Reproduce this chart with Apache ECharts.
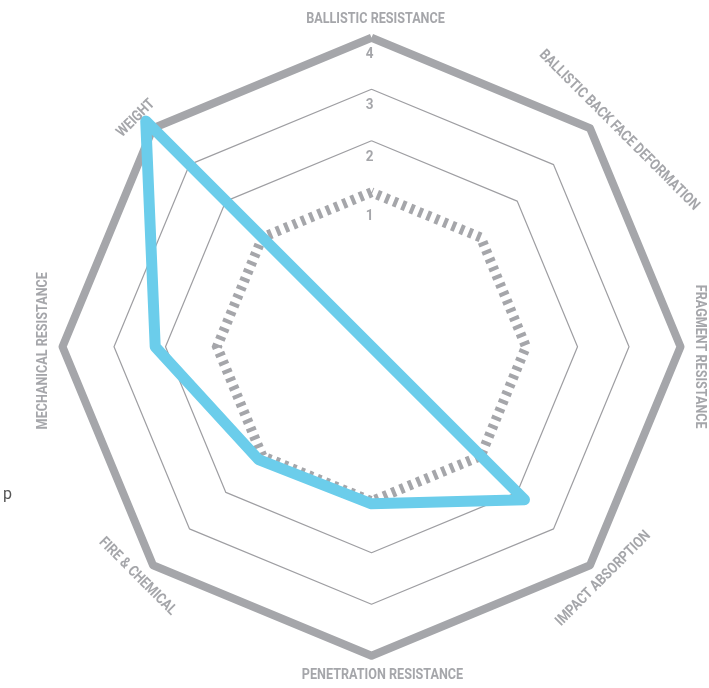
<!DOCTYPE html>
<html><head><meta charset="utf-8">
<script src="https://cdn.jsdelivr.net/npm/echarts@6/dist/echarts.min.js"></script>
<style>html,body{margin:0;padding:0;background:#fff}#c{width:709px;height:688px}</style>
</head><body><div id="c"></div>
<script>
// ---- data (reference order, clockwise from top) ----
const indicatorNames = ['BALLISTIC RESISTANCE','BALLISTIC BACK FACE DEFORMATION','FRAGMENT RESISTANCE','IMPACT ABSORPTION','PENETRATION RESISTANCE','FIRE & CHEMICAL','MECHANICAL RESISTANCE','WEIGHT'];
const armorValues = [-2, -2, -2, 2.2, 1.05, 1.1, 2.2, 4.2];
const tickValues = [1, 2, 3, 4];
const tickLabels = ['1', '2', '3', '4'];
const axisMin = -2;
const axisMax = 4;
const strayText = 'p';

// ---- layout / styling ----
const GRAY = '#a5a6aa', THIN = '#9e9ea2', BLUE = '#6bcdeb';
const nameRadius = 328;
const nameShift = [4, 22, 10, 0, 11, -3, -4, -5]; // slide along reading direction (px)
const n = indicatorNames.length;
// ECharts places indicators counter-clockwise; reorder to get clockwise layout
const order = indicatorNames.map((_, k) => (n - k) % n);
const indicator = order.map(i => ({ name: indicatorNames[i], min: axisMin, max: axisMax }));
const steps = axisMax - axisMin;
function ringColors(show, color) {
  const arr = [];
  for (let i = 0; i <= steps; i++) arr.push(show.indexOf(axisMin + i) >= 0 ? color : 'rgba(0,0,0,0)');
  return arr;
}
function makeRadar(lineStyle) {
  return {
    center: ['52.4%', '50.4%'], radius: 309, startAngle: 90, shape: 'polygon',
    splitNumber: steps, indicator: indicator,
    axisName: { show: false }, axisLine: { show: false }, axisTick: { show: false },
    axisLabel: { show: false }, splitArea: { show: false },
    splitLine: { show: true, lineStyle: lineStyle }
  };
}
const chart = echarts.init(document.getElementById('c'), null, { renderer: 'canvas' });
chart.setOption({
  backgroundColor: '#fff',
  animation: false,
  radar: [
    makeRadar({ color: ringColors([2, 3], THIN), width: 1.2, join: 'round' }),
    makeRadar({ color: ringColors([4], GRAY), width: 8, join: 'round' }),
    makeRadar({ color: ringColors([1], GRAY), width: 10, type: [4, 5] })
  ],
  series: [{
    type: 'radar', radarIndex: 0, z: 10, symbol: 'none', silent: true,
    lineStyle: { color: BLUE, width: 11, join: 'round', opacity: 1 },
    data: [{ value: order.map(i => armorValues[i]) }]
  }]
});

const coord = chart.getModel().getComponent('radar', 0).coordinateSystem;
const graphics = [];
order.forEach((refIdx, k) => {
  const c0 = coord.coordToPoint(0, k);
  const p = coord.coordToPoint(nameRadius, k);
  const ang = Math.atan2(-(p[1] - c0[1]), p[0] - c0[0]);
  let rot = ang - Math.PI / 2;
  while (rot > Math.PI / 2 + 1e-6) rot -= Math.PI;
  while (rot < -Math.PI / 2 - 1e-6) rot += Math.PI;
  const s = nameShift[refIdx];
  const x = p[0] + s * Math.cos(rot), y = p[1] - s * Math.sin(rot);
  graphics.push({
    type: 'text', x: x, y: y, rotation: rot, scaleX: 0.84, z: 20, silent: true,
    style: { text: indicatorNames[refIdx], fill: GRAY, fontFamily: 'Roboto', fontWeight: 700, fontSize: 15,
      align: 'center', verticalAlign: 'middle', textAlign: 'center', textVerticalAlign: 'middle' }
  });
});
tickValues.forEach((v, i) => {
  const p = coord.dataToPoint(v, 0);
  graphics.push({
    type: 'text', x: p[0] - 2, y: p[1] + (v === 1 ? 24 : 16), scaleX: 0.9, z: 20, silent: true,
    style: { text: tickLabels[i], fill: GRAY, fontFamily: 'Roboto', fontWeight: 700, fontSize: 15,
      align: 'center', verticalAlign: 'middle', textAlign: 'center', textVerticalAlign: 'middle' }
  });
});
graphics.push({
  type: 'text', left: 3, top: 487, z: 20, silent: true,
  style: { text: strayText, fill: '#555', fontFamily: 'Roboto', fontSize: 16 }
});
chart.setOption({ graphic: graphics });
</script>
</body></html>
